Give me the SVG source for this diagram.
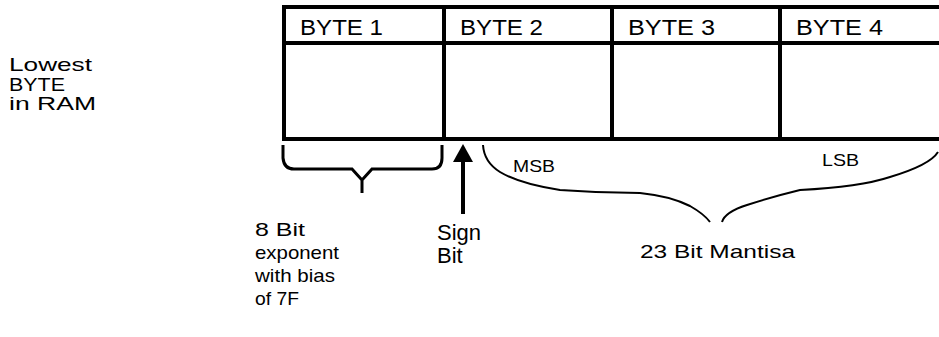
<svg xmlns="http://www.w3.org/2000/svg" width="939" height="337" viewBox="0 0 939 337">
<style>
text{font-family:"Liberation Sans",Arial,sans-serif;fill:#000}
.hdr{font-size:22px}
.lbl{font-size:19px}
.sm{font-size:17px}
.big{font-size:22px}
.thick{stroke:#000;stroke-width:4;fill:none}
.thin{stroke:#000;stroke-width:2;fill:none}
</style>
<defs>
<marker id="ah" markerWidth="18" markerHeight="20" refX="0" refY="10" orient="auto" markerUnits="userSpaceOnUse" viewBox="0 0 18 20">
<path d="M0,0 L18,10 L0,20 Z" fill="#000"/>
</marker>
</defs>
<rect width="939" height="337" fill="#fff"/>
<g id="table">
<path class="thick" d="M945,7 H284 V139 H945 M284,43 H945 M444,7 V139 M612,7 V139 M780,7 V139"/>
</g>
<g id="byte1"><text class="hdr" x="300" y="35" textLength="83" lengthAdjust="spacingAndGlyphs">BYTE 1</text></g>
<g id="byte2"><text class="hdr" x="460" y="35" textLength="83" lengthAdjust="spacingAndGlyphs">BYTE 2</text></g>
<g id="byte3"><text class="hdr" x="628" y="35" textLength="87" lengthAdjust="spacingAndGlyphs">BYTE 3</text></g>
<g id="byte4"><text class="hdr" x="796" y="35" textLength="87" lengthAdjust="spacingAndGlyphs">BYTE 4</text></g>
<g id="lowest">
<text class="lbl" x="9" y="71" textLength="83" lengthAdjust="spacingAndGlyphs">Lowest</text>
<text class="lbl" x="9" y="91" textLength="56" lengthAdjust="spacingAndGlyphs">BYTE</text>
<text class="lbl" x="9" y="110" textLength="87" lengthAdjust="spacingAndGlyphs">in RAM</text>
</g>
<g id="connectors">
<path class="thick" style="stroke-width:3" d="M283,145 V158 Q284,169 294,169 H352 L362,180 L362,193 M362,180 L372,169 H432 Q442,169 442,158 V145"/>
<line class="thick" x1="463" y1="214" x2="463" y2="162" marker-end="url(#ah)"/>
<path class="thin" d="M483,145 Q484,162 500,172 Q520,184 560,190 Q600,193 640,193 Q670,196 690,206 Q704,214 710,222 M722,222 Q725,212 747,205 Q775,196 800,190 Q860,187 890,177 Q930,165 938,152"/>
</g>
<g id="exponent">
<text class="lbl" x="255" y="236" textLength="50" lengthAdjust="spacingAndGlyphs">8 Bit</text>
<text class="lbl" x="255" y="259" textLength="84" lengthAdjust="spacingAndGlyphs">exponent</text>
<text class="lbl" x="255" y="282" textLength="80" lengthAdjust="spacingAndGlyphs">with bias</text>
<text class="lbl" x="255" y="305" textLength="44" lengthAdjust="spacingAndGlyphs">of 7F</text>
</g>
<g id="sign">
<text class="big" x="437" y="240">Sign</text>
<text class="big" x="437" y="263">Bit</text>
</g>
<g id="msb"><text class="sm" x="513" y="172" textLength="42" lengthAdjust="spacingAndGlyphs">MSB</text></g>
<g id="lsb"><text class="sm" x="822" y="166" textLength="37" lengthAdjust="spacingAndGlyphs">LSB</text></g>
<g id="mantisa"><text class="lbl" x="640" y="258" textLength="155" lengthAdjust="spacingAndGlyphs">23 Bit Mantisa</text></g>
</svg>
